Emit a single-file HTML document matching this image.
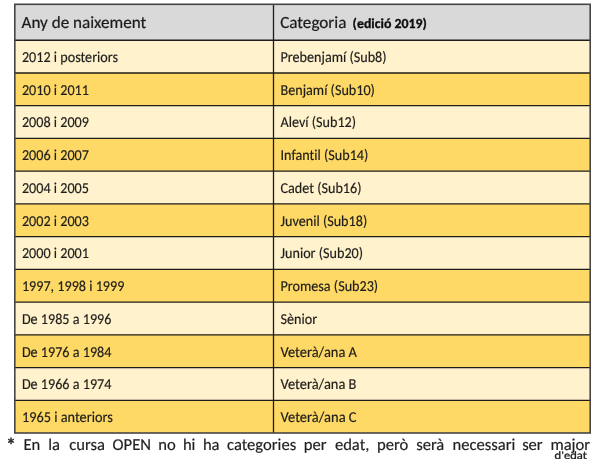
<!DOCTYPE html>
<html lang="ca"><head><meta charset="utf-8"><title>Categories per edat</title>
<style>
html,body{margin:0;padding:0;background:#fff;}
body{width:600px;height:459px;overflow:hidden;position:relative;}
svg{position:absolute;left:0;top:0;display:block;}
.t{font-variant-ligatures:none;font-kerning:normal;font-family:Carlito,"Liberation Sans",sans-serif;fill:#1d1d1b;stroke:#1d1d1b;stroke-width:0.18px;text-rendering:geometricPrecision;}
.b{font-size:15.2px;}
.h{font-size:17.1px;fill:#1c1c1c;stroke:#1c1c1c;stroke-width:0.22px;}
.hb{font-size:13.85px;font-weight:700;fill:#0d0d0d;stroke:#0d0d0d;stroke-width:0.3px;}
.f{font-size:16.6px;fill:#1f1f1f;}
.ast{font-size:20px;stroke-width:0.5px;}
.sm{font-size:11.3px;fill:#1f1f1f;stroke-width:0.3px;}
</style></head><body>
<svg width="600" height="459" viewBox="0 0 600 459">
<rect x="14.8" y="4.3" width="575.40" height="35.95" fill="#d9d9d9"/><rect x="14.8" y="40.25" width="575.40" height="32.73" fill="#fff2cc"/><rect x="14.8" y="72.98" width="575.40" height="32.73" fill="#ffd966"/><rect x="14.8" y="105.71" width="575.40" height="32.73" fill="#fff2cc"/><rect x="14.8" y="138.44" width="575.40" height="32.73" fill="#ffd966"/><rect x="14.8" y="171.17" width="575.40" height="32.73" fill="#fff2cc"/><rect x="14.8" y="203.90" width="575.40" height="32.73" fill="#ffd966"/><rect x="14.8" y="236.63" width="575.40" height="32.73" fill="#fff2cc"/><rect x="14.8" y="269.36" width="575.40" height="32.73" fill="#ffd966"/><rect x="14.8" y="302.09" width="575.40" height="32.73" fill="#fff2cc"/><rect x="14.8" y="334.82" width="575.40" height="32.73" fill="#ffd966"/><rect x="14.8" y="367.55" width="575.40" height="32.73" fill="#fff2cc"/><rect x="14.8" y="400.28" width="575.40" height="32.72" fill="#ffd966"/><g stroke="#1c1c1a" stroke-width="1.3"><line x1="14.8" y1="40.25" x2="590.2" y2="40.25"/><line x1="14.8" y1="72.98" x2="590.2" y2="72.98"/><line x1="14.8" y1="105.71" x2="590.2" y2="105.71"/><line x1="14.8" y1="138.44" x2="590.2" y2="138.44"/><line x1="14.8" y1="171.17" x2="590.2" y2="171.17"/><line x1="14.8" y1="203.90" x2="590.2" y2="203.90"/><line x1="14.8" y1="236.63" x2="590.2" y2="236.63"/><line x1="14.8" y1="269.36" x2="590.2" y2="269.36"/><line x1="14.8" y1="302.09" x2="590.2" y2="302.09"/><line x1="14.8" y1="334.82" x2="590.2" y2="334.82"/><line x1="14.8" y1="367.55" x2="590.2" y2="367.55"/><line x1="14.8" y1="400.28" x2="590.2" y2="400.28"/><line x1="273.5" y1="4.3" x2="273.5" y2="433.0"/></g><rect x="14.8" y="4.3" width="575.40" height="428.70" fill="none" stroke="#454545" stroke-width="1.6"/>
<g class="t">
<text class="h" x="21.50" y="28.00" textLength="124.77" lengthAdjust="spacingAndGlyphs">Any de naixement</text>
<text class="h" x="280.20" y="28.00" textLength="66.22" lengthAdjust="spacingAndGlyphs">Categoria</text>
<text class="hb" x="352.60" y="28.00" textLength="74.27" lengthAdjust="spacingAndGlyphs">(edició 2019)</text>
<g class="b"><text x="21.90" y="61.95" textLength="96.14" lengthAdjust="spacingAndGlyphs">2012 i posteriors</text><text x="280.50" y="61.95" textLength="106.09" lengthAdjust="spacingAndGlyphs">Prebenjamí (Sub8)</text><text x="21.90" y="94.68" textLength="67.05" lengthAdjust="spacingAndGlyphs">2010 i 2011</text><text x="280.50" y="94.68" textLength="94.42" lengthAdjust="spacingAndGlyphs">Benjamí (Sub10)</text><text x="21.90" y="127.41" textLength="67.05" lengthAdjust="spacingAndGlyphs">2008 i 2009</text><text x="280.50" y="127.41" textLength="75.56" lengthAdjust="spacingAndGlyphs">Aleví (Sub12)</text><text x="21.90" y="160.14" textLength="67.05" lengthAdjust="spacingAndGlyphs">2006 i 2007</text><text x="280.50" y="160.14" textLength="87.80" lengthAdjust="spacingAndGlyphs">Infantil (Sub14)</text><text x="21.90" y="192.87" textLength="67.05" lengthAdjust="spacingAndGlyphs">2004 i 2005</text><text x="280.50" y="192.87" textLength="80.98" lengthAdjust="spacingAndGlyphs">Cadet (Sub16)</text><text x="21.90" y="225.60" textLength="67.05" lengthAdjust="spacingAndGlyphs">2002 i 2003</text><text x="280.50" y="225.60" textLength="86.71" lengthAdjust="spacingAndGlyphs">Juvenil (Sub18)</text><text x="21.90" y="258.33" textLength="67.05" lengthAdjust="spacingAndGlyphs">2000 i 2001</text><text x="280.50" y="258.33" textLength="82.55" lengthAdjust="spacingAndGlyphs">Junior (Sub20)</text><text x="21.90" y="291.06" textLength="102.48" lengthAdjust="spacingAndGlyphs">1997, 1998 i 1999</text><text x="280.50" y="291.06" textLength="97.67" lengthAdjust="spacingAndGlyphs">Promesa (Sub23)</text><text x="21.90" y="323.79" textLength="89.53" lengthAdjust="spacingAndGlyphs">De 1985 a 1996</text><text x="280.50" y="323.79" textLength="36.64" lengthAdjust="spacingAndGlyphs">Sènior</text><text x="21.90" y="356.52" textLength="89.53" lengthAdjust="spacingAndGlyphs">De 1976 a 1984</text><text x="280.50" y="356.52" textLength="76.45" lengthAdjust="spacingAndGlyphs">Veterà/ana A</text><text x="21.90" y="389.25" textLength="89.53" lengthAdjust="spacingAndGlyphs">De 1966 a 1974</text><text x="280.50" y="389.25" textLength="75.96" lengthAdjust="spacingAndGlyphs">Veterà/ana B</text><text x="21.90" y="421.98" textLength="90.95" lengthAdjust="spacingAndGlyphs">1965 i anteriors</text><text x="280.50" y="421.98" textLength="76.11" lengthAdjust="spacingAndGlyphs">Veterà/ana C</text></g>
<g class="f"><text class="ast" x="6.10" y="452.10" textLength="9.97" lengthAdjust="spacingAndGlyphs">*</text><text x="23.49" y="449.50" textLength="16.83" lengthAdjust="spacingAndGlyphs">En</text><text x="48.25" y="449.50" textLength="11.77" lengthAdjust="spacingAndGlyphs">la</text><text x="69.17" y="449.50" textLength="35.69" lengthAdjust="spacingAndGlyphs">cursa</text><text x="112.60" y="449.50" textLength="38.38" lengthAdjust="spacingAndGlyphs">OPEN</text><text x="158.37" y="449.50" textLength="17.48" lengthAdjust="spacingAndGlyphs">no</text><text x="182.92" y="449.50" textLength="12.53" lengthAdjust="spacingAndGlyphs">hi</text><text x="202.91" y="449.50" textLength="16.67" lengthAdjust="spacingAndGlyphs">ha</text><text x="227.05" y="449.50" textLength="69.11" lengthAdjust="spacingAndGlyphs">categories</text><text x="303.77" y="449.50" textLength="22.77" lengthAdjust="spacingAndGlyphs">per</text><text x="334.88" y="449.50" textLength="34.47" lengthAdjust="spacingAndGlyphs">edat,</text><text x="376.98" y="449.50" textLength="31.25" lengthAdjust="spacingAndGlyphs">però</text><text x="416.17" y="449.50" textLength="28.14" lengthAdjust="spacingAndGlyphs">serà</text><text x="452.52" y="449.50" textLength="62.78" lengthAdjust="spacingAndGlyphs">necessari</text><text x="522.14" y="449.50" textLength="20.55" lengthAdjust="spacingAndGlyphs">ser</text><text x="550.41" y="449.50" textLength="39.72" lengthAdjust="spacingAndGlyphs">major</text></g>
<text class="sm" x="554.6" y="458.8" textLength="32.3" lengthAdjust="spacingAndGlyphs">d'edat</text>
</g>
</svg>
</body></html>
